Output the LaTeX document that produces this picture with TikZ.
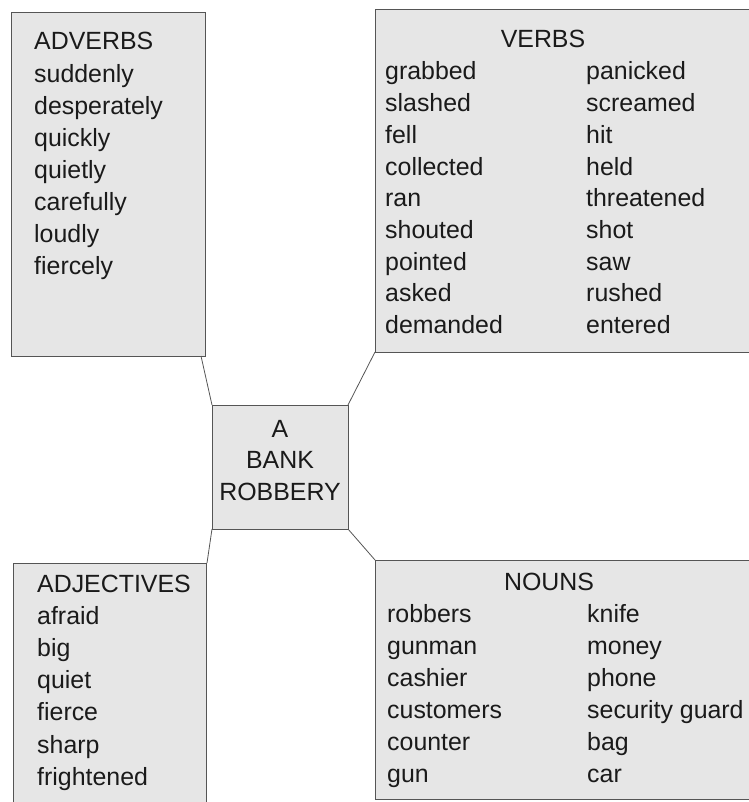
\documentclass[tikz,border=0pt]{standalone}
\usepackage{fontspec}
\setmainfont{Liberation Sans}
\definecolor{boxfill}{HTML}{E6E6E6}
\definecolor{boxline}{HTML}{555555}
\definecolor{textcol}{HTML}{1A1A1A}
\begin{document}
\begin{tikzpicture}[x=1bp,y=-1bp,
  box/.style={draw=boxline, fill=boxfill, line width=0.9bp, inner sep=0pt, outer sep=0pt, anchor=north west},
  word/.style={anchor=base west, inner sep=0pt, font=\fontsize{25}{28}\selectfont, text=textcol},
  title/.style={word, anchor=base},
  link/.style={draw=boxline, line width=0.8bp}]
\useasboundingbox (0,0) rectangle (749,802);
\clip (0,0) rectangle (749,802);
% boxes
\node[box, minimum width=194bp, minimum height=344bp] (adv) at (11,12) {};
\node[box, minimum width=400bp, minimum height=343bp] (verbs) at (375,9) {};
\node[box, minimum width=136bp, minimum height=124bp] (ctr) at (212,405) {};
\node[box, minimum width=193bp, minimum height=260bp] (adj) at (13,563) {};
\node[box, minimum width=400bp, minimum height=239bp] (nouns) at (375,560) {};
% connectors
\draw[link] ([xshift=-4bp]adv.south east) -- (ctr.north west);
\draw[link] (verbs.south west) -- (ctr.north east);
\draw[link] (ctr.south west) -- ([xshift=1bp]adj.north east);
\draw[link] (ctr.south east) -- (nouns.north west);
% centre
\node[title] (ctrA) at (280,437) {A};
\node[title] (ctrB) at (280,468) {BANK};
\node[title] (ctrC) at (280,500) {ROBBERY};
% adverbs
\foreach \w [count=\i] in {ADVERBS,suddenly,desperately,quickly,quietly,carefully,loudly,fiercely}
  \node[word] (advw\i) at (34,{50+32*(\i-1)}) {\w};
% verbs
\node[title] (verbst) at (543,48) {VERBS};
\foreach \w [count=\i] in {grabbed,slashed,fell,collected,ran,shouted,pointed,asked,demanded}
  \node[word] (verbl\i) at (385,{80+31.7*(\i-1)}) {\w};
\foreach \w [count=\i] in {panicked,screamed,hit,held,threatened,shot,saw,rushed,entered}
  \node[word] (verbr\i) at (586,{80+31.7*(\i-1)}) {\w};
% adjectives
\foreach \w [count=\i] in {ADJECTIVES,afraid,big,quiet,fierce,sharp,frightened}
  \node[word] (adjw\i) at (37,{592+32.2*(\i-1)}) {\w};
% nouns
\node[title] (nounst) at (549,590) {NOUNS};
\foreach \w [count=\i] in {robbers,gunman,cashier,customers,counter,gun}
  \node[word] (nounl\i) at (387,{622+32*(\i-1)}) {\w};
\foreach \w [count=\i] in {knife,money,phone,security guard,bag,car}
  \node[word] (nounr\i) at (587,{622+32*(\i-1)}) {\w};
\end{tikzpicture}
\end{document}
